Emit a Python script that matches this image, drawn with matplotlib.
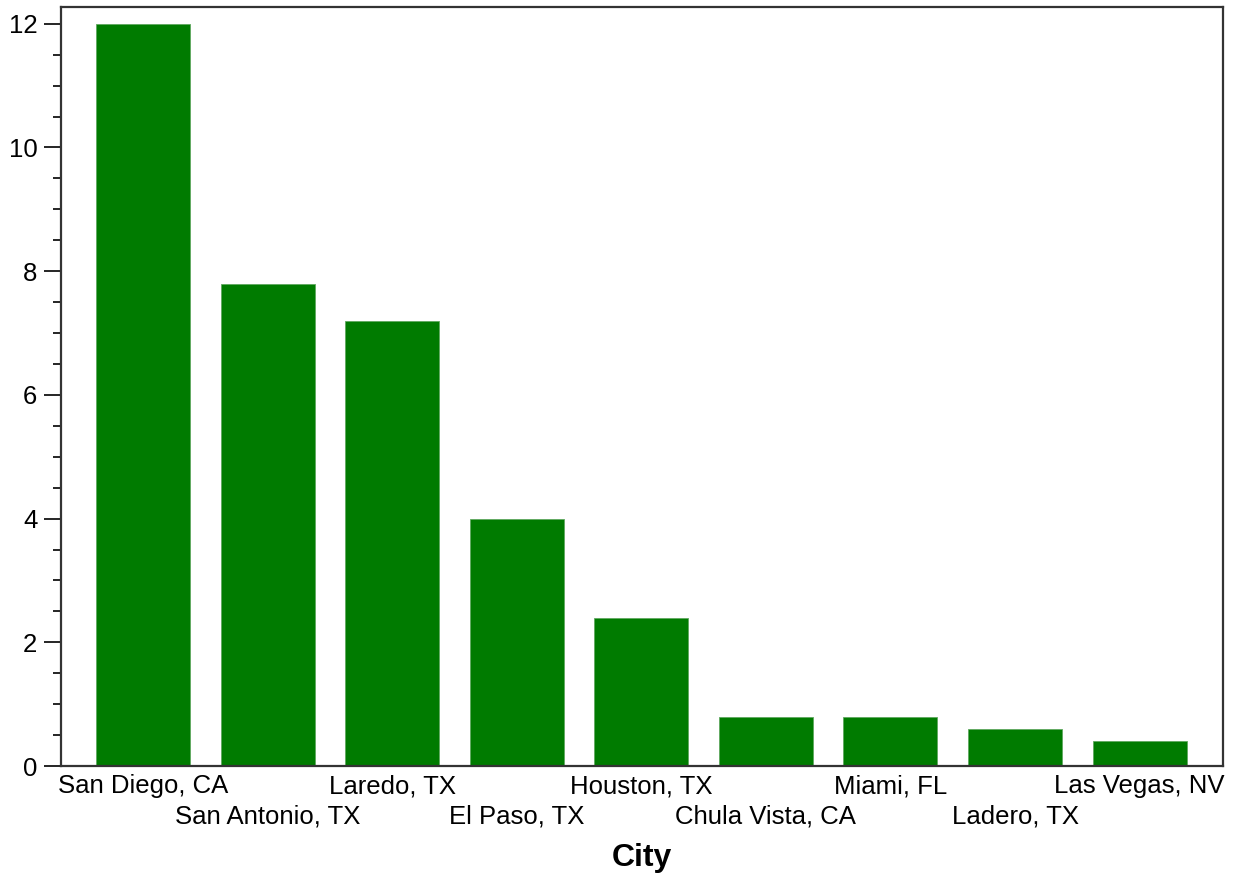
import numpy as np
import matplotlib.pyplot as plt
from matplotlib.ticker import MultipleLocator

cities = ["San Diego, CA", "San Antonio, TX", "Laredo, TX", "El Paso, TX",
          "Houston, TX", "Chula Vista, CA", "Miami, FL", "Ladero, TX",
          "Las Vegas, NV"]
values = [12.0, 7.8, 7.2, 4.0, 2.4, 0.8, 0.8, 0.6, 0.4]

plt.rcParams['font.family'] = ['Liberation Sans', 'DejaVu Sans']

fig = plt.figure(figsize=(12.42, 8.8), dpi=100)
ax = fig.add_axes([0.0491, 0.1295, 0.9356, 0.8625])

x = np.arange(len(cities))
ax.bar(x, values, width=0.755, color='#007b00', edgecolor='#5fa85f', linewidth=0.6)

ax.set_xlim(-0.66, 8.67)
ax.set_ylim(0, 12.27)
ax.yaxis.set_major_locator(MultipleLocator(2))
ax.yaxis.set_minor_locator(MultipleLocator(0.5))
ax.tick_params(axis='y', which='major', length=12, width=1.2, labelsize=18.5, pad=5)
ax.tick_params(axis='y', which='minor', length=6, width=1.2)

# staggered city labels, drawn as text so both rows sit where they should
ax.set_xticks([])
trans = ax.get_xaxis_transform()
for i, c in enumerate(cities):
    yy = -0.0264 if i % 2 == 0 else -0.0659
    ax.text(x[i], yy, c, transform=trans, ha='center', va='center', fontsize=18.5)

ax.text(0.5, -0.1212, "City", transform=ax.transAxes, ha='center', va='center',
        fontsize=23, fontweight='bold')

for s in ax.spines.values():
    s.set_linewidth(1.6)
    s.set_color('#333333')

fig.savefig("out.png", dpi=100)
